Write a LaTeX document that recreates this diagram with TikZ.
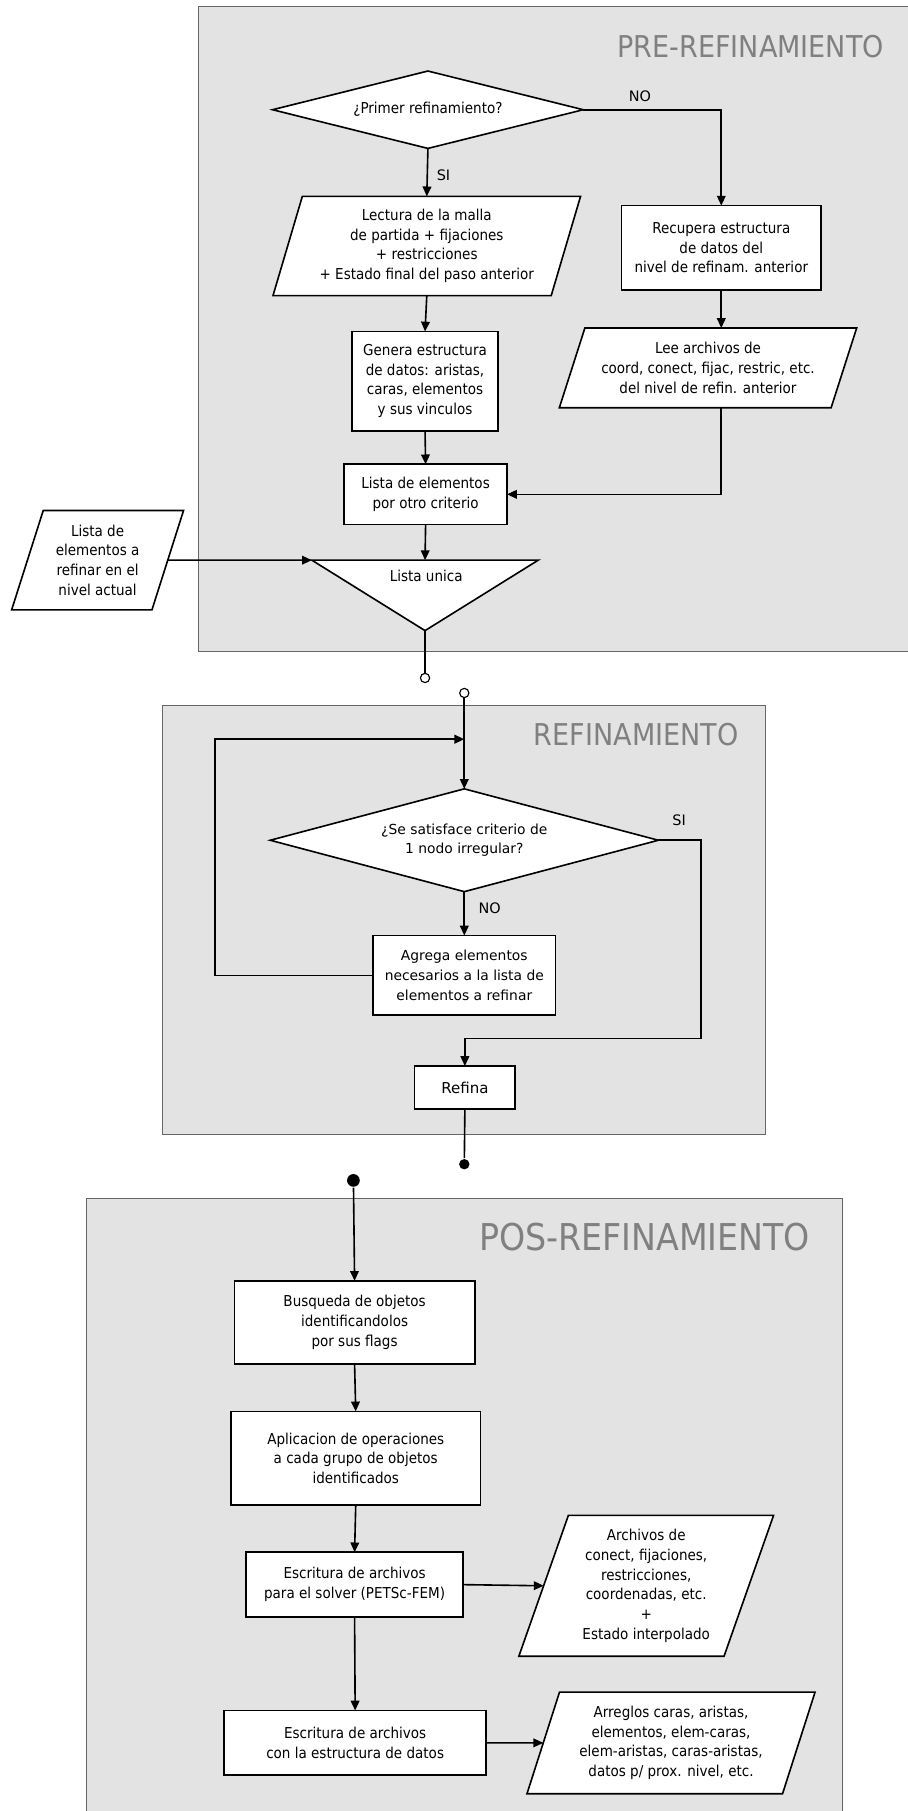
\documentclass[tikz,border=0pt]{standalone}
\usepackage{fontspec}
\usepackage{tikz}
\usetikzlibrary{arrows.meta,positioning,calc,shapes.geometric}
\newfontfamily\cndfont[FakeStretch=0.9]{DejaVu Sans}
\newfontfamily\regfont{DejaVu Sans}
\definecolor{panelgray}{HTML}{E3E3E3}
\definecolor{framegray}{HTML}{666666}
\definecolor{titlegray}{HTML}{808080}
\tikzset{
  panel/.style={fill=panelgray, draw=framegray, line width=0.8pt},
  ptitle/.style={text=titlegray, anchor=east, inner sep=0pt, font=\cndfont\fontsize{26}{30}\selectfont},
  box/.style={draw, fill=white, rectangle, align=center, inner sep=0pt, outer sep=0pt,
    font=\cndfont\fontsize{13}{17}\selectfont},
  iobox/.style={box, trapezium, trapezium stretches=true,
    trapezium left angle=#1, trapezium right angle=180-#1},
  decision/.style={box, diamond, aspect=4},
  lbl/.style={inner sep=0pt, font=\regfont\fontsize{12.5}{15}\selectfont},
  opendot/.style={circle, draw, fill=white, inner sep=0pt, minimum size=8pt, line width=1pt},
  fulldot/.style={circle, fill=black, inner sep=0pt, minimum size=#1},
}
\begin{document}
\begin{tikzpicture}[x=1pt, y=-1pt, >={Triangle[length=8.5pt,width=7.5pt]}, line width=1.4pt]
\useasboundingbox (0,0) rectangle (786,1568);
% panels
\draw[panel] (172,6) rectangle (790,564);
\draw[panel] (141,611) rectangle (663,982);
\draw[panel] (75,1038) rectangle (729,1575);
\node[ptitle] (tpre) at (766,40) {PRE-REFINAMIENTO};
\node[ptitle] (tref) at (640,636) {REFINAMIENTO};
\node[ptitle, font=\cndfont\fontsize{32}{36}\selectfont] (tpos) at (702,1071) {POS-REFINAMIENTO};

% pre-refinamiento
\node[decision, minimum width=269pt, minimum height=67pt] (prim) at (370.5,95) {¿Primer refinamiento?};
\node[iobox=71, minimum width=267pt, minimum height=86pt] (lect) at (369.5,213)
  {Lectura de la malla\\de partida + fijaciones\\+ restricciones\\+ Estado final del paso anterior};
\node[box, minimum width=173pt, minimum height=73pt] (recup) at (624.5,214.5)
  {Recupera estructura\\de datos del\\nivel de refinam. anterior};
\node[iobox=66.5, minimum width=258pt, minimum height=69pt] (lee) at (613,318.5)
  {Lee archivos de\\coord, conect, fijac, restric, etc.\\del nivel de refin. anterior};
\node[box, minimum width=126pt, minimum height=86pt] (gen) at (368,330)
  {Genera estructura\\de datos: aristas,\\caras, elementos\\y sus vinculos};
\node[box, minimum width=141pt, minimum height=52pt] (lista) at (368.5,428)
  {Lista de elementos\\por otro criterio};
\node[iobox=71, minimum width=149pt, minimum height=86pt] (inlist) at (84.5,485)
  {Lista de\\elementos a\\refinar en el\\nivel actual};
\coordinate (trl) at (270,485);
\coordinate (trr) at (466,485);
\coordinate (trb) at (368,546);
\coordinate (trt) at (368,485);
\draw[fill=white] (trl) -- (trr) -- (trb) -- cycle;
\node[lbl, font=\cndfont\fontsize{13}{17}\selectfont] (unica) at (369,499) {Lista unica};
\node[opendot] (oc1) at (368,587) {};

\draw[->] (prim.east) -| (recup.north);
\node[lbl] (no1) at (554,83) {NO};
\draw[->] (prim.south) -- (lect.north);
\node[lbl] (si1) at (384,152) {SI};
\draw[->] (recup.south) -- (recup.south |- lee.north);
\draw[->] (lect.south) -- (gen.north);
\draw[->] (gen.south) -- (lista.north);
\draw[->] (lee.south -| recup.south) |- (lista.east);
\draw[->] (lista.south) -- (trt);
\draw[->] (inlist.east) -- (trl);
\draw (trb) -- (oc1.north);

% refinamiento
\node[opendot] (oc2) at (402,600) {};
\node[decision, aspect=3.8, minimum width=336pt, minimum height=89pt,
  font=\regfont\fontsize{12}{17}\selectfont] (crit) at (402,727.5)
  {¿Se satisface criterio de\\1 nodo irregular?};
\node[box, minimum width=158pt, minimum height=69pt, font=\regfont\fontsize{12}{17}\selectfont] (agr) at (402,844.5)
  {Agrega elementos\\necesarios a la lista de\\elementos a refinar};
\node[box, minimum width=87pt, minimum height=37pt, font=\regfont\fontsize{13}{17}\selectfont] (refi) at (402.5,941.5) {Refina};
\node[fulldot=9pt] (dot1) at (402,1008) {};
\coordinate (lpc) at (186,640);
\coordinate (lpin) at (402,640);
\coordinate (sic) at (607,899);

\draw[->] (oc2.south) -- (crit.north);
\draw[->] (crit.south) -- (agr.north);
\node[lbl] (no2) at (424,786) {NO};
\draw[->] (agr.west) -| (lpc) -- (lpin);
\draw[->] (crit.east) -| (sic) -| (refi.north);
\node[lbl] (si2) at (588,710) {SI};
\draw (refi.south) -- (dot1);

% pos-refinamiento
\node[fulldot=11pt] (dot2) at (306,1022) {};
\node[box, minimum width=208pt, minimum height=72pt] (busq) at (307,1145)
  {Busqueda de objetos\\identificandolos\\por sus flags};
\node[box, minimum width=216pt, minimum height=81pt] (apl) at (308,1262.5)
  {Aplicacion de operaciones\\a cada grupo de objetos\\identificados};
\node[box, minimum width=188pt, minimum height=56pt] (esc1) at (307,1372)
  {Escritura de archivos\\para el solver (PETSc-FEM)};
\node[iobox=70.2, minimum width=221pt, minimum height=122pt] (arch) at (559.5,1373)
  {Archivos de\\conect, fijaciones,\\restricciones,\\coordenadas, etc.\\+\\Estado interpolado};
\node[box, minimum width=227pt, minimum height=56pt] (esc2) at (307.5,1509)
  {Escritura de archivos\\con la estructura de datos};
\node[iobox=70, minimum width=250pt, minimum height=88pt] (arr) at (581,1509)
  {Arreglos caras, aristas,\\elementos, elem-caras,\\elem-aristas, caras-aristas,\\datos p/ prox. nivel, etc.};

\draw[->] (dot2) -- (busq.north);
\draw[->] (busq.south) -- (apl.north);
\draw[->] (apl.south) -- (esc1.north);
\draw[->] (esc1.east) -- (arch.west);
\draw[->] (esc1.south) -- (esc2.north);
\draw[->] (esc2.east) -- (arr.west);
\end{tikzpicture}
\end{document}
